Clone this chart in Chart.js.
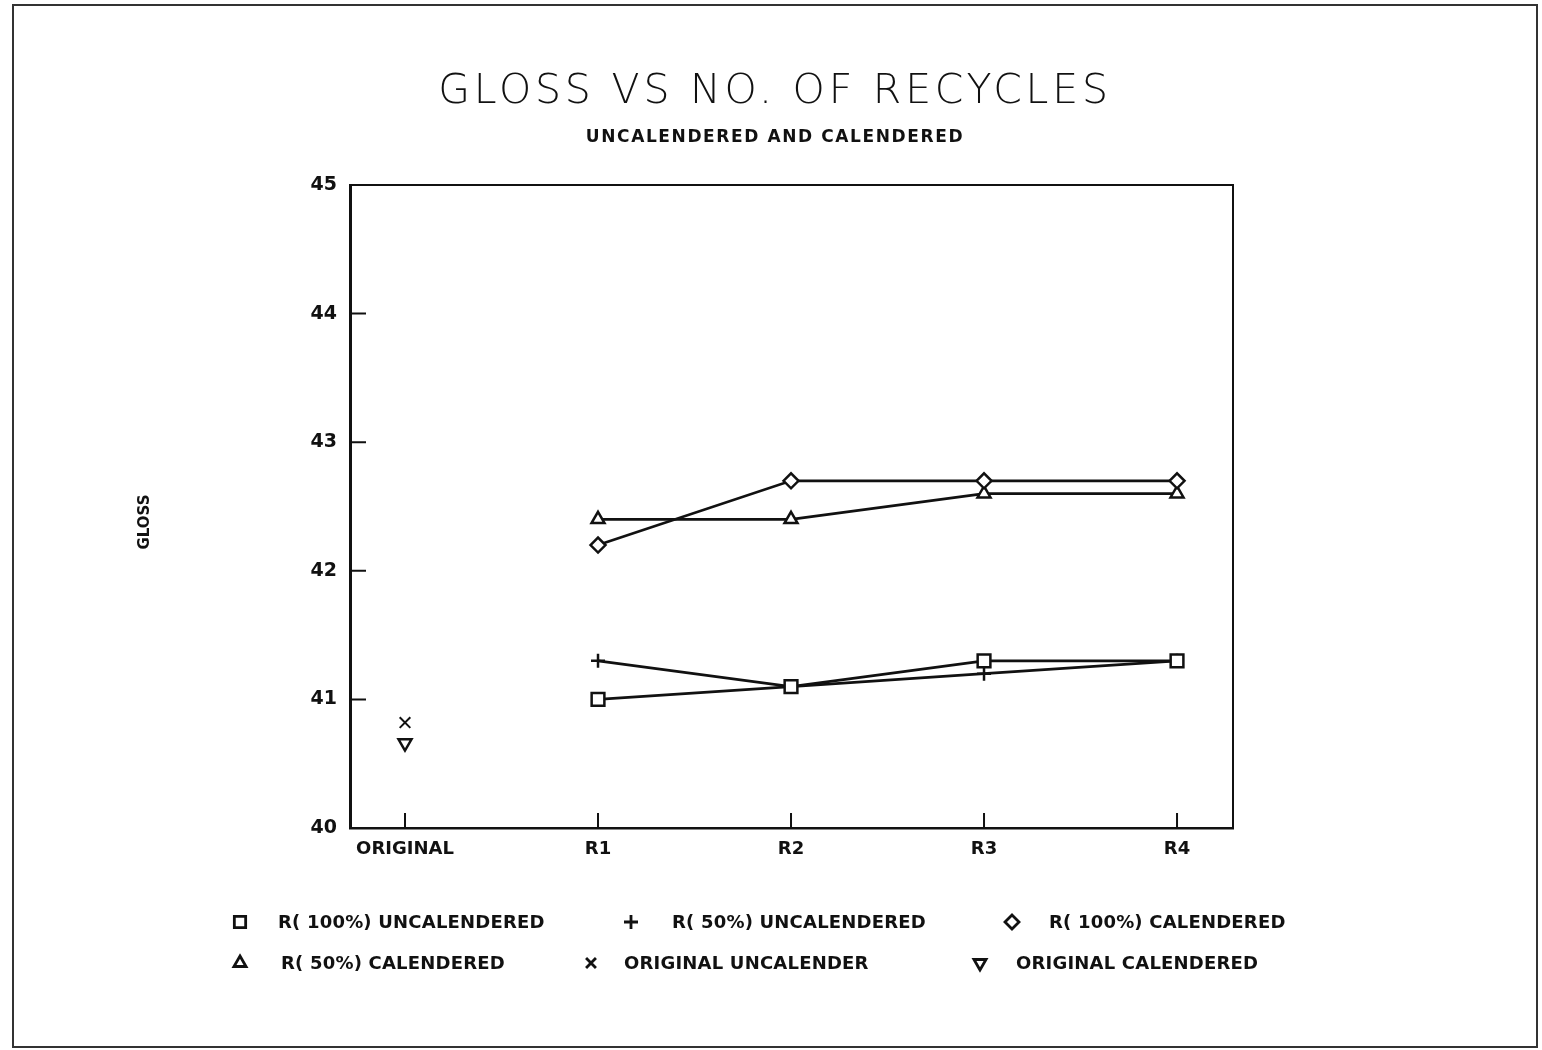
<!DOCTYPE html>
<html>
<head>
<meta charset="utf-8">
<title>Gloss vs No. of Recycles</title>
<script src="https://cdn.jsdelivr.net/npm/chart.js@4.4.1/dist/chart.umd.min.js"></script>
<style>
  html, body { margin: 0; padding: 0; background: #fff; }
  #wrap { width: 1542px; height: 1050px; position: relative; }
</style>
</head>
<body>
<div id="wrap"><canvas id="c" width="1542" height="1050"></canvas></div>
<script>
// Recycle stages along the x axis
const categories = ['ORIGINAL', 'R1', 'R2', 'R3', 'R4'];

// Gloss readings per stage (null = not measured at that stage)
const r100Uncal = [null, 41.0, 41.1, 41.3, 41.3];
const r50Uncal  = [null, 41.3, 41.1, 41.2, 41.3];
const r100Cal   = [null, 42.2, 42.7, 42.7, 42.7];
const r50Cal    = [null, 42.4, 42.4, 42.6, 42.6];
const origUncal = [40.82, null, null, null, null];
const origCal   = [40.66, null, null, null, null];

const yTicks = [40, 41, 42, 43, 44, 45];

const labels = [
  'R( 100%) UNCALENDERED',
  'R( 50%) UNCALENDERED',
  'R( 100%) CALENDERED',
  'R( 50%) CALENDERED',
  'ORIGINAL UNCALENDER',
  'ORIGINAL CALENDERED'
];

function toPoints(arr) {
  const pts = [];
  arr.forEach((v, i) => { if (v !== null) pts.push({ x: i, y: v }); });
  return pts;
}

const INK = '#111';
const FONT = '"DejaVu Sans", "Liberation Sans", sans-serif';

function series(label, arr, style, radius, extra) {
  return Object.assign({
    label: label,
    data: toPoints(arr),
    borderColor: INK,
    backgroundColor: 'rgba(0,0,0,0)',
    borderWidth: 2.7,
    pointStyle: style,
    pointRadius: radius,
    pointBorderWidth: 2.5,
    pointBorderColor: INK,
    pointBackgroundColor: '#fff',
    tension: 0,
    showLine: true
  }, extra || {});
}

const datasets = [
  series(labels[0], r100Uncal, 'rect', 9),
  series(labels[1], r50Uncal, 'cross', 7),
  series(labels[2], r100Cal, 'rectRot', 7.5),
  series(labels[3], r50Cal, 'triangle', 7.5),
  series(labels[4], origUncal, 'crossRot', 7.5, { showLine: false, pointBorderWidth: 2 }),
  series(labels[5], origCal, 'triangle', 7.5, { showLine: false, pointRotation: 180, pointBorderWidth: 2.5 })
];

// Legend slots: [dataset index, marker x, text x, row y]
const legendSlots = [
  [0, 240, 278, 922],
  [1, 631, 672, 922],
  [2, 1012, 1049, 922],
  [3, 240, 281, 963],
  [4, 591, 624, 963],
  [5, 980, 1016, 963]
];

function drawMarker(ctx, style, x, y, r, rot) {
  if (Chart.helpers && Chart.helpers.drawPoint) {
    Chart.helpers.drawPoint(ctx, { pointStyle: style, radius: r, rotation: rot || 0, borderWidth: ctx.lineWidth }, x, y);
    return;
  }
  ctx.beginPath();
  ctx.arc(x, y, r, 0, Math.PI * 2);
  ctx.stroke();
}

const pagePlugin = {
  id: 'page',
  beforeDraw(chart) {
    const ctx = chart.ctx;
    ctx.save();
    ctx.fillStyle = '#fff';
    ctx.fillRect(0, 0, chart.width, chart.height);
    // outer frame
    ctx.strokeStyle = '#333';
    ctx.lineWidth = 2;
    ctx.strokeRect(13, 5, 1524, 1042);
    // titles
    ctx.fillStyle = INK;
    ctx.textAlign = 'center';
    ctx.textBaseline = 'alphabetic';
    ctx.font = '200 41px ' + FONT;
    ctx.letterSpacing = '3.8px';
    ctx.fillText('GLOSS VS NO. OF RECYCLES', 775, 103);
    ctx.letterSpacing = '1.6px';
    ctx.font = 'bold 17px ' + FONT;
    ctx.fillText('UNCALENDERED AND CALENDERED', 775, 142);
    // vertical axis caption
    ctx.letterSpacing = '0px';
    ctx.font = 'bold 15px ' + FONT;
    ctx.textAlign = 'center';
    ctx.textBaseline = 'middle';
    ctx.translate(145, 522);
    ctx.rotate(-Math.PI / 2);
    ctx.fillText('GLOSS', 0, 0);
    ctx.restore();
  },
  afterDraw(chart) {
    const ctx = chart.ctx;
    const a = chart.chartArea;
    const xs = chart.scales.x, ys = chart.scales.y;
    ctx.save();
    ctx.strokeStyle = INK;
    // top and right edges of the plot box
    ctx.lineWidth = 2;
    ctx.beginPath();
    ctx.moveTo(a.left, a.top);
    ctx.lineTo(a.right, a.top);
    ctx.lineTo(a.right, a.bottom);
    ctx.stroke();
    // inward tick marks
    ctx.lineWidth = 2;
    ctx.beginPath();
    yTicks.slice(1, -1).forEach(v => {
      const py = ys.getPixelForValue(v);
      ctx.moveTo(a.left, py);
      ctx.lineTo(a.left + 16, py);
    });
    categories.forEach((c, i) => {
      const px = xs.getPixelForValue(i);
      ctx.moveTo(px, a.bottom);
      ctx.lineTo(px, a.bottom - 15);
    });
    ctx.stroke();
    // legend
    ctx.font = 'bold 18px ' + FONT;
    ctx.letterSpacing = '0.2px';
    ctx.textAlign = 'left';
    ctx.textBaseline = 'middle';
    legendSlots.forEach(([di, mx, tx, ly]) => {
      const ds = chart.data.datasets[di];
      ctx.lineWidth = 2.8;
      ctx.strokeStyle = INK;
      ctx.fillStyle = '#fff';
      const r = ds.pointStyle === 'rect' ? 8 : 7;
      drawMarker(ctx, ds.pointStyle, mx, ly, r, ds.pointRotation || 0);
      ctx.fillStyle = INK;
      ctx.fillText(ds.label, tx, ly + 1);
    });
    ctx.restore();
  }
};

new Chart(document.getElementById('c'), {
  type: 'line',
  data: { datasets: datasets },
  plugins: [pagePlugin],
  options: {
    responsive: false,
    animation: false,
    layout: { padding: { left: 0, top: 185, right: 309, bottom: 182 } },
    plugins: {
      legend: { display: false },
      title: { display: false },
      tooltip: { enabled: false }
    },
    scales: {
      x: {
        type: 'linear',
        min: -0.285,
        max: 4.29,
        afterBuildTicks(scale) {
          scale.ticks = categories.map((c, i) => ({ value: i }));
        },
        afterFit(scale) { scale.height = 40; },
        grid: { display: false, drawTicks: false },
        border: { display: true, color: INK, width: 2.5 },
        ticks: {
          color: INK,
          padding: 11,
          font: { family: FONT, size: 18, weight: 'bold' },
          callback: (v) => categories[v] !== undefined ? categories[v] : ''
        }
      },
      y: {
        min: 40,
        max: 45,
        afterBuildTicks(scale) {
          scale.ticks = yTicks.map(v => ({ value: v }));
        },
        afterFit(scale) { scale.width = 350; },
        grid: { display: false, drawTicks: false },
        border: { display: true, color: INK, width: 3 },
        ticks: {
          color: INK,
          padding: 13,
          font: { family: FONT, size: 19, weight: 'bold' }
        }
      }
    }
  }
});
</script>
</body>
</html>
